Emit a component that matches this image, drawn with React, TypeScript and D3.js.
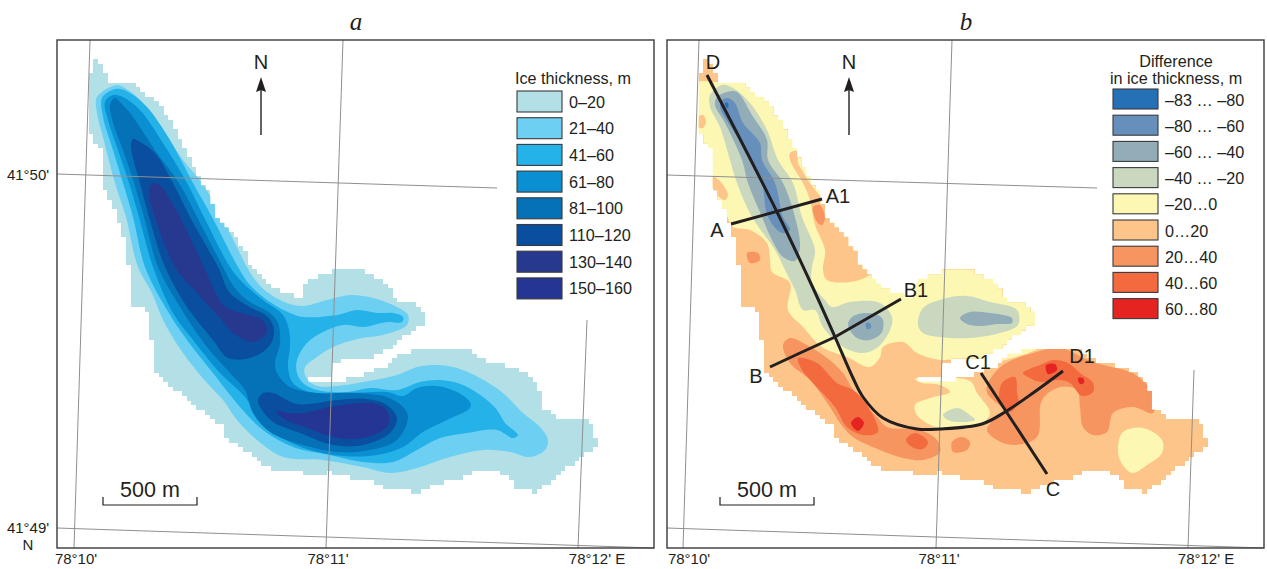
import React from "react";
import * as d3 from "d3";

type Pt = [number, number];

// thickness legend
const thicknessLabels = ["0–20", "21–40", "41–60", "61–80", "81–100", "110–120", "130–140", "150–160"];
const thicknessColors = ["#b2e0e6", "#6dcff2", "#25b2e8", "#0a90d2", "#0572b8", "#0a4f9f", "#27388f", "#243594"];

// difference legend
const diffLabels = ["–83 … –80", "–80 … –60", "–60 … –40", "–40 … –20", "–20…0", "0…20", "20…40", "40…60", "60…80"];
const diffColors = ["#2670b5", "#6690bb", "#93adb8", "#c9d8bf", "#fdf7b4", "#fdc589", "#f79560", "#f36a3e", "#e52421"];

// glacier outline, map units of panel a
const outline: Pt[] = [[92,56],[100,62],[105,73],[110,83],[132,84],[142,90],[153,100],[165,112],[178,135],[192,162],[200,180],[210,193],[217,220],[237,240],[247,253],[251,267],[263,280],[277,290],[302,298],[303,288],[313,278],[330,272],[347,267],[360,270],[383,280],[393,292],[390,298],[415,303],[425,313],[423,325],[410,332],[397,343],[373,357],[347,358],[333,365],[330,375],[307,376],[307,381],[330,382],[357,377],[367,372],[387,365],[397,355],[425,348],[467,348],[483,360],[512,367],[527,375],[543,393],[543,407],[560,420],[583,417],[593,427],[598,447],[583,453],[577,463],[563,470],[537,492],[517,488],[507,477],[487,468],[473,472],[460,478],[440,483],[417,492],[385,488],[367,480],[348,477],[330,472],[313,475],[297,470],[275,470],[257,460],[242,447],[227,438],[223,425],[210,417],[197,407],[183,393],[170,387],[163,378],[152,365],[152,343],[150,320],[143,305],[133,305],[133,290],[129,267],[124,238],[118,217],[110,200],[101,183],[101,150],[92,138],[87,128],[87,80],[92,73]];

// thickness contours, panel a
const t21: Pt[] = [[117,85],[97,97],[97,113],[103,137],[115,183],[126,217],[138,267],[152,293],[163,320],[183,353],[207,383],[223,400],[237,420],[257,440],[283,457],[323,460],[363,467],[390,473],[417,468],[450,457],[483,450],[510,452],[530,457],[545,450],[548,440],[540,427],[523,413],[503,393],[480,378],[457,368],[437,365],[417,367],[397,375],[363,382],[337,386],[317,386],[310,382],[305,375],[305,367],[317,357],[333,347],[357,339],[383,335],[407,325],[408,315],[397,307],[373,298],[350,295],[327,300],[303,306],[287,303],[267,292],[256,281],[247,267],[222,217],[202,183],[183,160],[163,130],[143,103],[128,90]];
const t41: Pt[] = [[112,90],[102,98],[103,117],[113,150],[123,183],[133,217],[145,267],[167,310],[187,340],[213,373],[240,407],[263,430],[293,447],[330,455],[363,462],[393,462],[417,450],[440,438],[467,433],[497,430],[513,438],[518,435],[505,423],[497,410],[483,397],[463,385],[440,380],[420,382],[397,390],[370,388],[347,392],[317,390],[303,383],[297,373],[297,360],[307,343],[323,332],[343,325],[363,327],[387,322],[402,322],[403,317],[393,313],[377,313],[357,310],[337,315],[303,317],[290,313],[270,302],[250,285],[238,267],[212,217],[193,183],[170,140],[147,107],[130,93],[120,89]];
const t61: Pt[] = [[113,95],[105,102],[108,120],[118,150],[129,183],[139,217],[153,267],[173,313],[193,340],[220,373],[245,397],[260,420],[280,437],[310,450],[343,456],[377,455],[403,447],[423,432],[447,420],[470,408],[470,402],[457,392],[437,386],[417,388],[403,396],[387,392],[347,393],[310,392],[293,383],[288,367],[290,347],[289,330],[283,315],[263,300],[243,283],[230,267],[204,217],[187,183],[163,143],[140,110],[123,97]];
const t81: Pt[] = [[115,98],[110,105],[113,123],[123,150],[134,183],[144,217],[158,267],[180,307],[207,347],[230,373],[245,390],[253,413],[270,432],[303,445],[337,452],[370,450],[397,440],[408,417],[403,407],[387,397],[357,393],[317,393],[290,387],[277,373],[275,363],[280,343],[278,323],[270,313],[247,300],[234,287],[223,267],[197,217],[179,183],[157,153],[130,113],[120,102]];
const t110Upper: Pt[] = [[133,139],[131,147],[140,183],[149,217],[165,267],[187,307],[213,340],[228,358],[253,357],[270,345],[274,330],[268,317],[250,307],[230,293],[218,267],[190,217],[173,183],[155,153],[140,142]];
const t110Lower: Pt[] = [[258,400],[262,410],[273,422],[300,433],[333,445],[363,445],[390,433],[397,418],[387,405],[367,399],[337,400],[297,404],[273,393],[263,393]];
const t130Upper: Pt[] = [[153,183],[149,192],[155,217],[175,267],[197,293],[220,318],[233,333],[253,342],[267,332],[262,320],[237,312],[223,305],[212,285],[204,267],[180,217],[170,200],[162,187]];
const t130Lower: Pt[] = [[276,411],[283,418],[307,428],[337,438],[363,438],[387,427],[389,415],[380,405],[360,403],[330,407],[303,413],[287,413]];

// difference zones, panel b
const yellowMain: Pt[] = [[698,82],[718,82],[760,75],[830,150],[880,240],[960,250],[1050,300],[1050,340],[962,366],[953,360],[940,360],[917,353],[903,342],[883,347],[880,357],[870,367],[847,357],[822,347],[803,327],[788,310],[790,283],[772,272],[770,260],[767,243],[750,230],[733,227],[726,214],[700,170],[680,100]];
const yellowNotch: Pt[] = [[915,379],[970,381],[977,393],[990,413],[980,425],[953,429],[935,427],[917,415],[915,405],[930,398],[950,392],[940,385],[922,383]];
const yellowRound: Pt[] = [[1118,447],[1123,432],[1143,428],[1162,440],[1162,453],[1147,465],[1132,473],[1120,460]];
const orangeRightBand: Pt[] = [[790,153],[797,151],[798,163],[802,170],[810,183],[840,220],[880,262],[870,275],[850,282],[827,280],[823,270],[825,250],[815,225],[810,200],[803,183],[795,170],[790,160]];
const orangeTopLeft: Pt[] = [[698,117],[703,115],[706,122],[703,128],[698,127]];
const orangeLeft: Pt[] = [[712,176],[720,181],[728,195],[725,200],[717,195],[712,186]];

const greenMain: Pt[] = [[722,85],[710,95],[710,107],[720,127],[730,160],[737,183],[752,217],[775,250],[785,270],[795,290],[803,310],[815,310],[823,327],[843,347],[863,353],[878,347],[890,330],[892,317],[880,303],[850,302],[832,307],[825,300],[812,283],[812,267],[815,250],[802,217],[793,183],[778,160],[767,130],[750,103],[733,88]];
const greenRight: Pt[] = [[918,325],[923,308],[947,298],[967,296],[990,302],[1017,310],[1018,325],[1000,333],[970,338],[940,337],[923,333]];
const greenNotch: Pt[] = [[943,415],[957,408],[970,415],[975,420],[957,422],[948,420]];

const grayMain: Pt[] = [[717,97],[715,105],[725,123],[742,160],[748,183],[762,217],[772,240],[783,257],[795,261],[800,247],[795,217],[783,183],[768,160],[767,140],[752,115],[737,92],[727,92]];
const grayCentre: Pt[] = [[848,325],[852,317],[867,313],[882,318],[882,332],[870,340],[857,338]];
const grayRight: Pt[] = [[960,318],[970,312],[990,313],[1003,315],[1012,318],[1012,323],[997,324],[980,326],[967,324]];

const blueMain: Pt[] = [[722,100],[720,107],[733,130],[752,160],[762,183],[768,217],[782,233],[790,230],[783,217],[775,183],[762,160],[760,143],[743,123],[735,103],[728,98]];
const blueCentre: Pt[] = [[866,323],[870,323],[871,328],[867,329]];
const deepBlueTop: Pt[] = [[725,103],[728,103],[728,108],[726,107]];

const salmonA1: Pt[] = [[813,207],[820,205],[825,218],[822,225],[817,222]];
const salmonSmall: Pt[] = [[747,253],[758,253],[760,260],[750,263]];
const salmonLower: Pt[] = [[783,345],[790,338],[807,345],[827,358],[843,373],[855,393],[877,417],[887,427],[920,430],[937,440],[940,452],[923,460],[903,458],[880,450],[853,437],[840,423],[830,407],[810,380],[790,363]];
const salmonDot: Pt[] = [[952,442],[962,437],[970,442],[967,450],[953,452]];
const salmonRight: Pt[] = [[987,393],[988,383],[1003,365],[1033,353],[1060,348],[1093,362],[1130,372],[1140,378],[1153,393],[1153,413],[1133,407],[1113,413],[1107,432],[1093,435],[1083,427],[1080,407],[1077,390],[1060,387],[1042,400],[1037,437],[1013,445],[997,440],[987,430],[993,420],[1003,410],[993,400]];

const coralLower: Pt[] = [[798,358],[817,363],[837,383],[853,390],[867,405],[878,432],[863,435],[847,427],[835,407],[813,383],[802,370]];
const coralDot: Pt[] = [[906,440],[915,433],[928,442],[923,449],[912,447]];
const coralC: Pt[] = [[1002,383],[1015,377],[1017,392],[1018,403],[1010,412],[1000,403]];
const coralD: Pt[] = [[1023,373],[1040,365],[1053,360],[1068,363],[1080,373],[1093,383],[1093,392],[1082,396],[1070,383],[1060,380],[1040,382],[1030,378]];

const redLower: Pt[] = [[851,423],[858,417],[864,423],[858,431]];
const redD: Pt[] = [[1046,365],[1055,364],[1057,370],[1048,374]];
const redSmall: Pt[] = [[1078,378],[1083,378],[1084,383],[1080,384]];

// survey profiles, panel b
const profileD: Pt[] = [[707,75],[777,212],[813,288],[835,337],[853,378],[863,397],[883,418],[917,429],[940,429],[982,424],[1005,412],[1033,393],[1063,371]];
const profileA: Pt[] = [[731,224],[822,199]];
const profileB: Pt[] = [[770,367],[800,353],[835,337],[901,299]];
const profileC: Pt[] = [[981,373],[1047,474]];
const profileNames = ["D", "A1", "A", "B1", "B", "C1", "D1", "C"];
const profileSpots: Pt[] = [[713,69],[838,203],[717,237],[916,297],[756,383],[978,369],[1082,363],[1053,496]];

// graticule, map units of each panel
const gridA: Pt[][] = [[[90,40],[74,548]],[[343,40],[326,548]],[[587,320],[578,548]],[[57,174],[497,188]],[[57,528],[654,548]]];
const gridB: Pt[][] = [[[699,40],[683,548]],[[952,40],[936,548]],[[1194,370],[1188,548]],[[667,175],[1097,188]],[[667,528],[1264,548]]];
const lonLabelsA: [string, number][] = [["78°10'", 76],["78°11'", 328],["78°12' E", 597]];
const lonLabelsB: [string, number][] = [["78°10'", 689],["78°11'", 939],["78°12' E", 1206]];

const CELL = 4.67;
const FONT = "'Liberation Sans', Arial, sans-serif";
const INK = "#231f20";
const TOP = 40;
const BOTTOM = 548;
const WIDTH = 597;

const closedPath = (x: any, y: any) =>
  d3.line<Pt>().x((d) => x(d[0])).y((d) => y(d[1])).curve(d3.curveCatmullRomClosed.alpha(0.5));

// outer edge of the glacier is a raster, build it from grid cells
const rasterPath = (x: any, y: any) => {
  let d = "";
  const w = Math.abs(x(CELL) - x(0));
  d3.range(84, 604, CELL).forEach((cx) => {
    d3.range(50, 496, CELL).forEach((cy) => {
      if (d3.polygonContains(outline, [cx + CELL / 2, cy + CELL / 2])) {
        d += `M${x(cx)},${y(cy)}h${w + 0.3}v${w + 0.3}h${-w - 0.3}z`;
      }
    });
  });
  return d;
};

const Arrow = ({ cx }: { cx: number }) => (
  <g>
    <text x={cx} y={69} textAnchor="middle" fontSize={20} fontFamily={FONT} fill={INK}>N</text>
    <line x1={cx} x2={cx} y1={135} y2={90} stroke={INK} strokeWidth={1.4} />
    <path d={`M${cx},77L${cx + 5},92L${cx},90L${cx - 5},92Z`} fill={INK} />
  </g>
);

const ScaleBar = ({ x0 }: { x0: number }) => (
  <g>
    <text x={x0 + 47} y={497} textAnchor="middle" fontSize={21.5} fontFamily={FONT} fill={INK}>500 m</text>
    <path d={`M${x0},497V505H${x0 + 94}V497`} fill="none" stroke={INK} strokeWidth={1.2} />
  </g>
);

const Legend = ({ x0, y0, step, labels, colors, h }: any) => (
  <g>
    {labels.map((l: string, i: number) => (
      <g key={l}>
        <rect x={x0} y={y0 + i * step} width={45} height={h} fill={colors[i]} stroke="#3a3a3c" strokeWidth={1.1} />
        <text x={x0 + 52} y={y0 + i * step + 16.5} fontSize={16.2} fontFamily={FONT} fill={INK}>{l}</text>
      </g>
    ))}
  </g>
);

const Frame = ({ left, title, grid, lonLabels }: any) => {
  const x = d3.scaleLinear().domain([left, left + WIDTH]).range([left, left + WIDTH]);
  const y = d3.scaleLinear().domain([TOP, BOTTOM]).range([TOP, BOTTOM]);
  return (
    <g>
      <text x={left + 299} y={30} textAnchor="middle" fontSize={25} fontStyle="italic" fontFamily="'Liberation Serif', serif" fill={INK}>{title}</text>
      {grid.map((g: Pt[], i: number) => (
        <line key={i} x1={x(g[0][0])} y1={y(g[0][1])} x2={x(g[1][0])} y2={y(g[1][1])} stroke="#8f8f8f" strokeWidth={1} />
      ))}
      <rect x={left} y={TOP} width={WIDTH} height={BOTTOM - TOP} fill="none" stroke="#3a3a3c" strokeWidth={1.4} />
      {lonLabels.map(([t, px]: [string, number]) => (
        <text key={t} x={x(px)} y={564} textAnchor="middle" fontSize={15} fontFamily={FONT} fill={INK}>{t}</text>
      ))}
    </g>
  );
};

export default function App() {
  const y = d3.scaleLinear().domain([TOP, BOTTOM]).range([TOP, BOTTOM]);
  const xa = d3.scaleLinear().domain([57, 654]).range([57, 654]);
  const xb = d3.scaleLinear().domain([667, 1264]).range([667, 1264]);
  const xbOutline = xb.copy().domain([57, 654]);
  const pa = closedPath(xa, y);
  const pb = closedPath(xb, y);
  const maskA = rasterPath(xa, y);
  const maskB = rasterPath(xbOutline, y);
  const openLine = d3.line<Pt>().x((d) => xb(d[0])).y((d) => y(d[1]));
  const profileLine = d3.line<Pt>().x((d) => xb(d[0])).y((d) => y(d[1])).curve(d3.curveCatmullRom.alpha(0.5));

  const thicknessLayers: [Pt[], string][] = [
    [t21, thicknessColors[1]],
    [t41, thicknessColors[2]],
    [t61, thicknessColors[3]],
    [t81, thicknessColors[4]],
    [t110Upper, thicknessColors[5]],
    [t110Lower, thicknessColors[5]],
    [t130Upper, thicknessColors[6]],
    [t130Lower, thicknessColors[7]],
  ];
  const diffLayers: [Pt[], string][] = [
    [yellowMain, diffColors[4]],
    [yellowNotch, diffColors[4]],
    [yellowRound, diffColors[4]],
    [orangeRightBand, diffColors[5]],
    [orangeTopLeft, diffColors[5]],
    [orangeLeft, diffColors[5]],
    [greenMain, diffColors[3]],
    [greenRight, diffColors[3]],
    [greenNotch, diffColors[3]],
    [grayMain, diffColors[2]],
    [grayCentre, diffColors[2]],
    [grayRight, diffColors[2]],
    [blueMain, diffColors[1]],
    [blueCentre, diffColors[1]],
    [deepBlueTop, diffColors[0]],
    [salmonA1, diffColors[6]],
    [salmonSmall, diffColors[6]],
    [salmonLower, diffColors[6]],
    [salmonDot, diffColors[6]],
    [salmonRight, diffColors[6]],
    [coralLower, diffColors[7]],
    [coralDot, diffColors[7]],
    [coralC, diffColors[7]],
    [coralD, diffColors[7]],
    [redLower, diffColors[8]],
    [redD, diffColors[8]],
    [redSmall, diffColors[8]],
  ];

  return (
    <svg width={1267} height={569} style={{ position: "absolute", left: 0, top: 0, background: "#fff" }}>
      <defs>
        <clipPath id="mask-a"><path d={maskA} /></clipPath>
        <clipPath id="mask-b"><path d={maskB} /></clipPath>
      </defs>

      {/* panel a */}
      <path d={maskA} fill={thicknessColors[0]} shapeRendering="crispEdges" />
      <g clipPath="url(#mask-a)">
        {thicknessLayers.map(([pts, c], i) => <path key={i} d={pa(pts) as string} fill={c} />)}
      </g>
      <Frame left={57} title="a" grid={gridA} lonLabels={lonLabelsA} />
      <Arrow cx={261} />
      <ScaleBar x0={103} />
      <text x={515} y={84} fontSize={16.2} fontFamily={FONT} fill={INK}>Ice thickness, m</text>
      <Legend x0={517} y0={91} step={26.7} h={21} labels={thicknessLabels} colors={thicknessColors} />
      <text x={28} y={180} textAnchor="middle" fontSize={15} fontFamily={FONT} fill={INK}>41°50'</text>
      <text x={28} y={533} textAnchor="middle" fontSize={15} fontFamily={FONT} fill={INK}>41°49'</text>
      <text x={28} y={550} textAnchor="middle" fontSize={15} fontFamily={FONT} fill={INK}>N</text>

      {/* panel b */}
      <path d={maskB} fill={diffColors[5]} shapeRendering="crispEdges" />
      <g clipPath="url(#mask-b)">
        {diffLayers.map(([pts, c], i) => <path key={i} d={pb(pts) as string} fill={c} />)}
      </g>
      <Frame left={667} title="b" grid={gridB} lonLabels={lonLabelsB} />
      <Arrow cx={849} />
      <ScaleBar x0={720} />
      <path d={profileLine(profileD) as string} fill="none" stroke={INK} strokeWidth={3} />
      {[profileA, profileB, profileC].map((p, i) => (
        <path key={i} d={openLine(p) as string} fill="none" stroke={INK} strokeWidth={3} />
      ))}
      {profileNames.map((n, i) => (
        <text key={n} x={xb(profileSpots[i][0])} y={y(profileSpots[i][1])} textAnchor="middle" fontSize={20} fontFamily={FONT} fill={INK}>{n}</text>
      ))}
      <text x={1176} y={67} textAnchor="middle" fontSize={16.2} fontFamily={FONT} fill={INK}>Difference</text>
      <text x={1176} y={84} textAnchor="middle" fontSize={16.2} fontFamily={FONT} fill={INK}>in ice thickness, m</text>
      <Legend x0={1113} y0={89} step={26.2} h={20} labels={diffLabels} colors={diffColors} />
    </svg>
  );
}
